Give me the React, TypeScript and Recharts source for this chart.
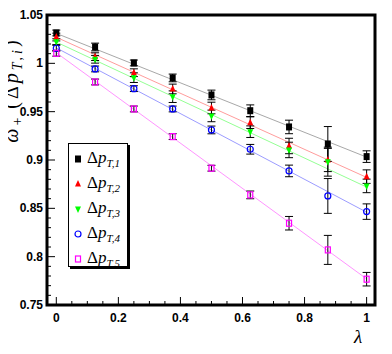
import {
  ComposedChart,
  Scatter,
  Line,
  XAxis,
  YAxis,
  ErrorBar,
  ReferenceArea,
  Legend,
} from "recharts";

// lambda points
const LAMBDA = [0, 0.125, 0.25, 0.375, 0.5, 0.625, 0.75, 0.875, 1];

// omega+ per delta pT bin
const PT1 = [1.0314, 1.0169, 1.0004, 0.9849, 0.9673, 0.951, 0.9342, 0.9166, 0.9035];
const PT2 = [1.0272, 1.0069, 0.9903, 0.9735, 0.9538, 0.9386, 0.9145, 0.9, 0.8828];
const PT3 = [1.0224, 1.0042, 0.9852, 0.9655, 0.9456, 0.9293, 0.9104, 0.8983, 0.8732];
const PT4 = [1.0156, 0.9942, 0.9738, 0.9528, 0.9311, 0.9111, 0.8887, 0.8628, 0.8466];
const PT5 = [1.0104, 0.9807, 0.9528, 0.9242, 0.8915, 0.8639, 0.8346, 0.807, 0.7767];

const ERR1 = [0.003, 0.004, 0.003, 0.004, 0.005, 0.006, 0.007, 0.018, 0.006];
const ERR2 = [0.004, 0.004, 0.004, 0.005, 0.006, 0.006, 0.008, 0.012, 0.007];
const ERR3 = [0.003, 0.004, 0.005, 0.006, 0.006, 0.006, 0.008, 0.015, 0.007];
const ERR4 = [0.003, 0.003, 0.003, 0.003, 0.004, 0.005, 0.006, 0.018, 0.008];
const ERR5 = [0.003, 0.003, 0.003, 0.003, 0.003, 0.004, 0.007, 0.015, 0.007];

// linear fit endpoints at lambda = 0 and 1
const FIT_X = [0, 1];
const FIT1 = [1.031, 0.903];
const FIT2 = [1.027, 0.882];
const FIT3 = [1.022, 0.872];
const FIT4 = [1.016, 0.846];
const FIT5 = [1.011, 0.777];

const X_TICKS = [0, 0.05, 0.1, 0.15, 0.2, 0.25, 0.3, 0.35, 0.4, 0.45, 0.5, 0.55, 0.6, 0.65, 0.7, 0.75, 0.8, 0.85, 0.9, 0.95, 1];
const X_MAJOR = [0, 0.2, 0.4, 0.6, 0.8, 1];
const Y_TICKS = [
  0.75, 0.76, 0.77, 0.78, 0.79, 0.8, 0.81, 0.82, 0.83, 0.84, 0.85, 0.86, 0.87, 0.88, 0.89, 0.9,
  0.91, 0.92, 0.93, 0.94, 0.95, 0.96, 0.97, 0.98, 0.99, 1, 1.01, 1.02, 1.03, 1.04, 1.05,
];
const Y_MAJOR = [0.75, 0.8, 0.85, 0.9, 0.95, 1, 1.05];

const X_DOMAIN: [number, number] = [-0.03, 1.027];
const Y_DOMAIN: [number, number] = [0.75, 1.05];

const TICK_FONT = '"Liberation Sans Narrow", "Liberation Sans", Arial, sans-serif';
const TEX_FONT = '"Liberation Serif", "DejaVu Serif", serif';

const SERIES = [
  { key: "1", vals: PT1, errs: ERR1, fit: FIT1, color: "#000000", fitColor: "#a8a8a8", marker: "square" },
  { key: "2", vals: PT2, errs: ERR2, fit: FIT2, color: "#ff0000", fitColor: "#ff9c9c", marker: "triUp" },
  { key: "3", vals: PT3, errs: ERR3, fit: FIT3, color: "#00ff00", fitColor: "#94ff94", marker: "triDown" },
  { key: "4", vals: PT4, errs: ERR4, fit: FIT4, color: "#0000ff", fitColor: "#9c9cff", marker: "circle" },
  { key: "5", vals: PT5, errs: ERR5, fit: FIT5, color: "#ff00ff", fitColor: "#ff94ff", marker: "openSquare" },
];

const isIn = (list: number[], v: number) => list.some((m) => Math.abs(m - v) < 1e-6);

function Marker({ kind, cx, cy, color }: { kind: string; cx: number; cy: number; color: string }) {
  if (kind === "square") return <rect x={cx - 3} y={cy - 3.5} width={6} height={7} fill={color} />;
  if (kind === "openSquare")
    return <rect x={cx - 2.5} y={cy - 3} width={5} height={6} fill="none" stroke={color} strokeWidth={1.2} />;
  if (kind === "circle") return <circle cx={cx} cy={cy} r={3} fill="none" stroke={color} strokeWidth={1.2} />;
  if (kind === "triUp")
    return <polygon points={`${cx},${cy - 4} ${cx - 3},${cy + 2.5} ${cx + 3},${cy + 2.5}`} fill={color} />;
  return <polygon points={`${cx},${cy + 4} ${cx - 3},${cy - 2.5} ${cx + 3},${cy - 2.5}`} fill={color} />;
}

function XTick({ x, y, payload }: any) {
  const v = payload.value;
  const major = isIn(X_MAJOR, v);
  return (
    <g>
      <line x1={x} x2={x} y1={y} y2={y - (major ? 8 : 4)} stroke="#000" strokeWidth={1} />
      {major && (
        <text x={x} y={y + 17} textAnchor="middle" fontSize={12} fontWeight="bold" fontFamily={TICK_FONT} fill="#000">
          {String(Math.round(v * 100) / 100)}
        </text>
      )}
    </g>
  );
}

function YTick({ x, y, payload }: any) {
  const v = payload.value;
  const major = isIn(Y_MAJOR, v);
  return (
    <g>
      <line x1={x} x2={x + (major ? 8 : 4)} y1={y} y2={y} stroke="#000" strokeWidth={1} />
      {major && (
        <text x={x - 4} y={y + 4} textAnchor="end" fontSize={12} fontWeight="bold" fontFamily={TICK_FONT} fill="#000">
          {String(Math.round(v * 100) / 100)}
        </text>
      )}
    </g>
  );
}

function LegendBox() {
  return (
    <div
      style={{
        width: 60,
        height: 124,
        border: "1px solid #000",
        boxShadow: "2px 2px 0 #000",
        background: "#fff",
        boxSizing: "border-box",
        paddingTop: 2,
      }}
    >
      {SERIES.map((s) => (
        <div key={s.key} style={{ height: 25, display: "flex", alignItems: "center" }}>
          <svg width={16} height={12} style={{ marginLeft: 2 }}>
            <Marker kind={s.marker} cx={7} cy={6} color={s.color} />
          </svg>
          <span style={{ fontFamily: TEX_FONT, fontSize: 17, color: "#000", whiteSpace: "nowrap", lineHeight: 1 }}>
            Δ<i>p</i>
            <sub style={{ fontSize: 11, fontStyle: "italic", verticalAlign: -4 }}>T,{s.key}</sub>
          </span>
        </div>
      ))}
    </div>
  );
}

export default function App() {
  return (
    <div style={{ margin: -8, position: "relative", width: 392, height: 354, background: "#fff" }}>
      <ComposedChart width={392} height={354} margin={{ top: 15, right: 17, bottom: 0, left: 0 }}>
        <XAxis
          type="number"
          dataKey="x"
          domain={X_DOMAIN}
          allowDataOverflow
          ticks={X_TICKS}
          interval={0}
          axisLine={false}
          tickLine={false}
          tickSize={0}
          tickMargin={0}
          height={49}
          tick={<XTick />}
        />
        <YAxis
          type="number"
          domain={Y_DOMAIN}
          allowDataOverflow
          ticks={Y_TICKS}
          interval={0}
          axisLine={false}
          tickLine={false}
          tickSize={0}
          tickMargin={0}
          width={47}
          tick={<YTick />}
        />
        {SERIES.map((s) => (
          <Line
            key={"fit" + s.key}
            data={FIT_X.map((x, i) => ({ x, y: s.fit[i] }))}
            dataKey="y"
            type="linear"
            stroke={s.fitColor}
            strokeWidth={1}
            dot={false}
            activeDot={false}
            isAnimationActive={false}
          />
        ))}
        {SERIES.map((s) => (
          <Scatter
            key={"pts" + s.key}
            data={LAMBDA.map((x, i) => ({ x, y: s.vals[i], e: s.errs[i] }))}
            dataKey="y"
            isAnimationActive={false}
            shape={(p: any) => <Marker kind={s.marker} cx={p.cx} cy={p.cy} color={s.color} />}
          >
            <ErrorBar dataKey="e" direction="y" width={4} stroke="#000" strokeWidth={1} isAnimationActive={false} />
          </Scatter>
        ))}
        <ReferenceArea
          x1={X_DOMAIN[0]}
          x2={X_DOMAIN[1]}
          y1={Y_DOMAIN[0]}
          y2={Y_DOMAIN[1]}
          fill="none"
          fillOpacity={0}
          stroke="#000"
          strokeWidth={3}
        />
        <Legend
          layout="horizontal"
          verticalAlign="middle"
          align="center"
          content={<LegendBox />}
          wrapperStyle={{ left: 68, top: 143, width: 62, height: 126 }}
        />
      </ComposedChart>
      <svg width={392} height={354} style={{ position: "absolute", left: 0, top: 0, pointerEvents: "none" }}>
        <text
          transform="translate(18,90) rotate(-90)"
          textAnchor="middle"
          fontFamily={TEX_FONT}
          fontSize={20}
          letterSpacing={3}
          fill="#000"
        >
          <tspan fontStyle="italic">ω</tspan>
          <tspan fontSize={14} dy={4}>+</tspan>
          <tspan dy={-4} dx={6}>(Δ</tspan>
          <tspan fontStyle="italic">p</tspan>
          <tspan fontSize={14} fontStyle="italic" dy={4}>T,i</tspan>
          <tspan dy={-4}>)</tspan>
        </text>
        <text x={358} y={343} textAnchor="middle" fontFamily={TEX_FONT} fontStyle="italic" fontSize={19} fill="#000">
          λ
        </text>
      </svg>
    </div>
  );
}
